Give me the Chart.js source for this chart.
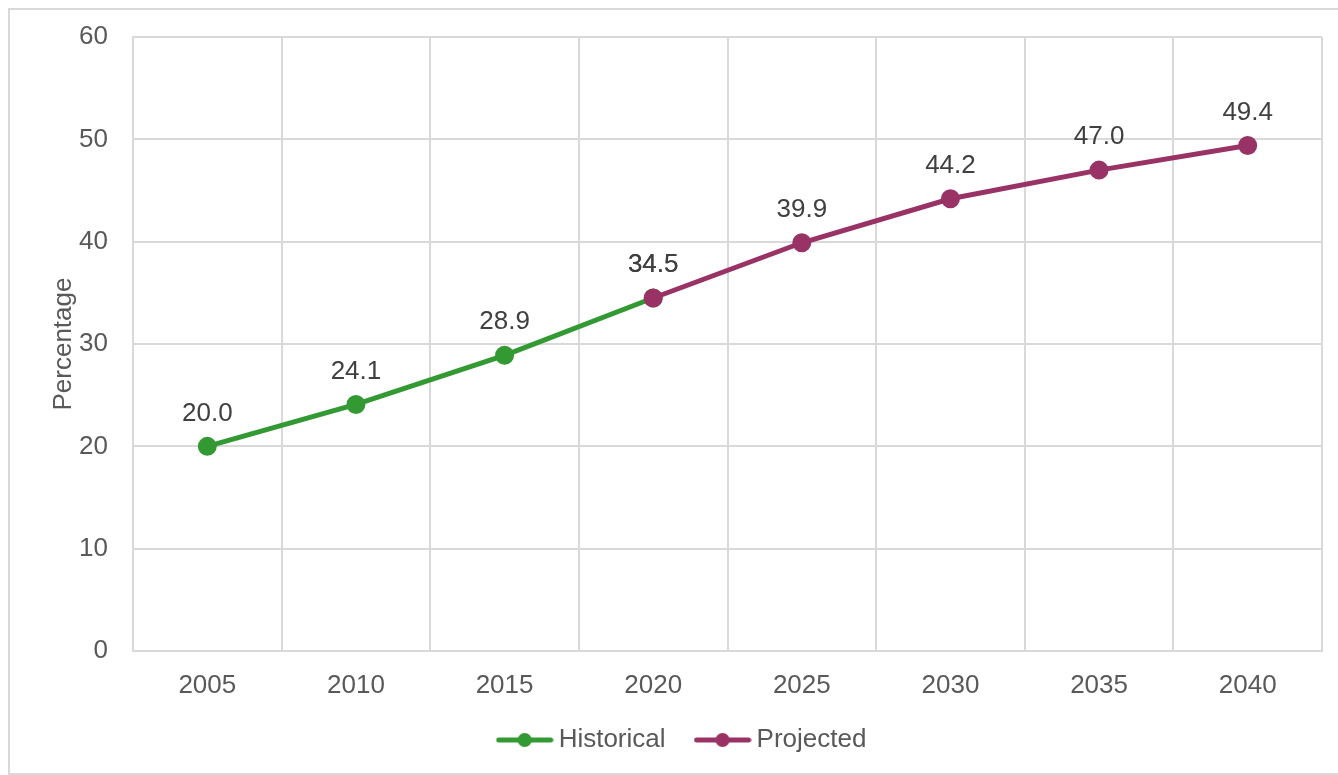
<!DOCTYPE html>
<html>
<head>
<meta charset="utf-8">
<script src="https://cdn.jsdelivr.net/npm/chart.js@4"></script>
<style>
  html, body { margin: 0; padding: 0; background: #fff; overflow: hidden; }
  #wrap { position: relative; width: 1338px; height: 775px; overflow: hidden; }
  #frame { position: absolute; left: 8px; top: 8px; width: 1340px; height: 767px; border: 2px solid #d9d9d9; box-sizing: border-box; }
  canvas { position: absolute; left: 0; top: 0; }
</style>
</head>
<body>
<div id="wrap">
  <div id="frame"></div>
  <canvas id="chart" width="1338" height="775"></canvas>
</div>
<script>
const years = ['2005', '2010', '2015', '2020', '2025', '2030', '2035', '2040'];
const historical = [20.0, 24.1, 28.9, 34.5, null, null, null, null];
const projected = [null, null, null, 34.5, 39.9, 44.2, 47.0, 49.4];
const yTicks = [0, 10, 20, 30, 40, 50, 60];

const green = '#339933';
const purple = '#993366';
const fontFamily = '"Liberation Sans", Arial, sans-serif';

// legend marker: short line with a dot in the middle
const makeMarker = (color) => {
    const c = document.createElement('canvas');
    c.width = 58;
    c.height = 16;
    const g = c.getContext('2d');
    g.strokeStyle = color;
    g.lineWidth = 5;
    g.lineCap = 'round';
    g.beginPath();
    g.moveTo(3, 8);
    g.lineTo(55, 8);
    g.stroke();
    g.fillStyle = color;
    g.beginPath();
    g.arc(29, 8, 7, 0, Math.PI * 2);
    g.fill();
    return c;
};

const valueLabels = {
    id: 'valueLabels',
    afterDatasetsDraw(chart) {
        const ctx = chart.ctx;
        ctx.save();
        ctx.font = '26px ' + fontFamily;
        ctx.fillStyle = '#404040';
        ctx.textAlign = 'center';
        ctx.textBaseline = 'middle';
        chart.data.datasets.forEach((ds, i) => {
            chart.getDatasetMeta(i).data.forEach((pt, j) => {
                if (ds.data[j] == null) return;
                ctx.fillText(ds.data[j].toFixed(1), pt.x, pt.y - 33);
            });
        });
        ctx.restore();
    }
};

new Chart(document.getElementById('chart').getContext('2d'), {
    type: 'line',
    data: {
        labels: years,
        datasets: [{
            label: 'Historical',
            data: historical,
            borderColor: green,
            backgroundColor: green,
            borderWidth: 5,
            pointRadius: 7,
            pointHoverRadius: 7,
            fill: false,
            tension: 0,
            order: 2
        }, {
            label: 'Projected',
            data: projected,
            borderColor: purple,
            backgroundColor: purple,
            borderWidth: 5,
            pointRadius: 7,
            pointHoverRadius: 7,
            fill: false,
            tension: 0,
            order: 1
        }]
    },
    options: {
        responsive: false,
        animation: false,
        elements: { point: { pointStyle: 'circle' } },
        layout: { padding: { top: 30, right: 16, bottom: 12, left: 48 } },
        plugins: {
            legend: {
                position: 'bottom',
                labels: {
                    usePointStyle: true,
                    pointStyleWidth: 42,
                    padding: 36,
                    color: '#595959',
                    font: { family: fontFamily, size: 26 },
                    generateLabels(chart) {
                        return chart.data.datasets.map((ds, i) => ({
                            text: ds.label,
                            fontColor: '#595959',
                            pointStyle: makeMarker(ds.borderColor),
                            lineWidth: 0,
                            hidden: false,
                            datasetIndex: i
                        }));
                    }
                }
            },
            tooltip: { enabled: false }
        },
        scales: {
            x: {
                offset: true,
                grid: { color: '#d9d9d9', lineWidth: 2, drawTicks: false, offset: true },
                border: { color: '#d9d9d9', width: 2 },
                ticks: {
                    color: '#595959',
                    // mirror keeps the labels from being clipped to the short axis box,
                    // the negative padding puts them back below the axis line
                    mirror: true,
                    padding: -50,
                    font: { family: fontFamily, size: 26 }
                },
                afterFit(scale) { scale.height = 40; }
            },
            y: {
                min: 0,
                max: 60,
                afterBuildTicks(scale) { scale.ticks = yTicks.map(v => ({ value: v })); },
                grid: { color: '#d9d9d9', lineWidth: 2, drawTicks: false },
                border: { color: '#d9d9d9', width: 2 },
                ticks: {
                    color: '#595959',
                    padding: 25,
                    font: { family: fontFamily, size: 26, lineHeight: 0.93 }
                },
                title: {
                    display: true,
                    text: 'Percentage',
                    color: '#595959',
                    padding: { top: 0, bottom: 0 },
                    font: { family: fontFamily, size: 26 }
                },
                afterFit(scale) { scale.width = 85; }
            }
        }
    },
    plugins: [valueLabels]
});
</script>
</body>
</html>
